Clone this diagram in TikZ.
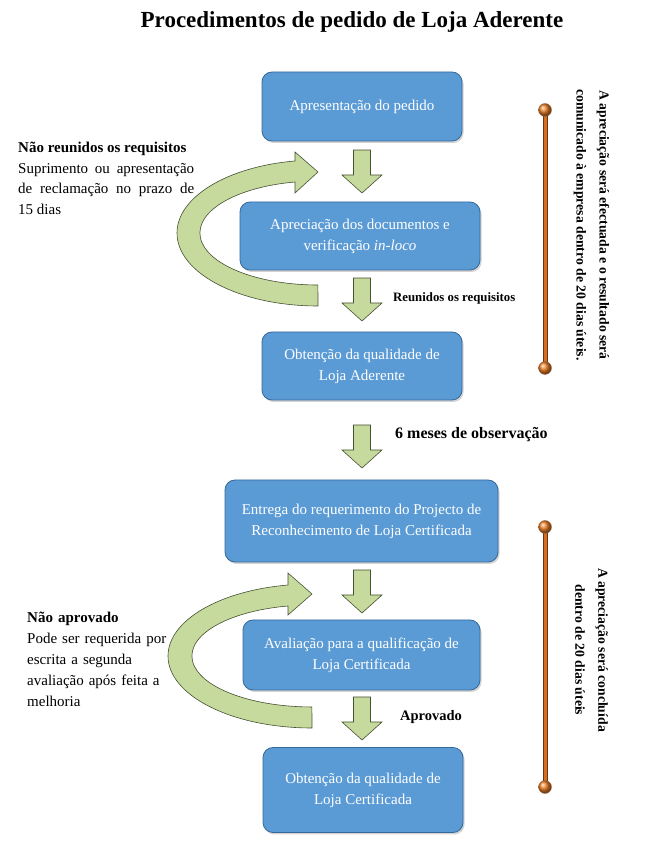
\documentclass[tikz,border=0pt]{standalone}
\usepackage{fontspec}
\setmainfont{Liberation Serif}
\usetikzlibrary{shadows}
\definecolor{boxblue}{RGB}{91,155,213}
\definecolor{boxedge}{RGB}{52,105,155}
\definecolor{arrowgreen}{RGB}{198,218,158}
\definecolor{arrowedge}{RGB}{70,80,50}
\definecolor{barorange}{RGB}{215,110,30}
\definecolor{bardark}{RGB}{110,50,15}
\definecolor{ballorange}{RGB}{235,125,35}
\begin{document}
\begin{tikzpicture}[x=1pt,y=1pt,
  stepbox/.style={draw=boxedge, line width=0.8pt, fill=boxblue, rounded corners=10pt,
    text=white, align=center, font=\fontsize{15}{21}\selectfont, inner sep=0pt,
    drop shadow={shadow xshift=1.5pt, shadow yshift=-2pt, opacity=0.35}},
  greenarrow/.style={fill=arrowgreen, draw=arrowedge, line width=0.6pt},
  lbl/.style={anchor=west, inner sep=0pt},
  sidenote/.style={inner sep=0pt, rotate=-90, align=center, font=\bfseries\fontsize{13.7}{23}\selectfont},
  blockdown/.pic={\path[greenarrow] (-8.5,0) -- (8.5,0) -- (8.5,-25) -- (20,-25) -- (0,-43) -- (-20,-25) -- (-8.5,-25) -- cycle;},
  ball/.style={ball color=ballorange}
]
\useasboundingbox (0,0) rectangle (647,849);

% title
\node[font=\bfseries\fontsize{23}{28}\selectfont] (title) at (352,827) {Procedimentos de pedido de Loja Aderente};

% boxes
\node[stepbox, minimum width=200, minimum height=69] (b1) at (362,742.5) {Apresentação do pedido};
\node[stepbox, minimum width=240, minimum height=68] (b2) at (360,613) {Apreciação dos documentos e\\verificação \textit{in-loco}};
\node[stepbox, minimum width=200, minimum height=68] (b3) at (362,483) {Obtenção da qualidade de\\Loja Aderente};
\node[stepbox, minimum width=273, minimum height=82] (b4) at (361.5,328) {Entrega do requerimento do Projecto de\\Reconhecimento de Loja Certificada};
\node[stepbox, minimum width=237, minimum height=70] (b5) at (361.5,194) {Avaliação para a qualificação de\\Loja Certificada};
\node[stepbox, minimum width=200, minimum height=85] (b6) at (363,59) {Obtenção da qualidade de\\Loja Certificada};

% block arrows down
\pic (a1) at (362,699) {blockdown};
\pic (a2) at (362,571) {blockdown};
\pic (a3) at (362,424) {blockdown};
\pic (a4) at (362,279) {blockdown};
\pic (a5) at (362,152) {blockdown};

% curved return arrows
\path[greenarrow] (318,543) arc[start angle=270, end angle=99.4, x radius=141, y radius=73]
  -- (295,697) -- (318,677) -- (295,656) -- (295,667)
  arc[start angle=101.2, end angle=270, x radius=118, y radius=52] -- cycle;
\path[greenarrow] (312,121) arc[start angle=270, end angle=99.6, x radius=144, y radius=72]
  -- (288,276) -- (312,255) -- (288,234) -- (288,243)
  arc[start angle=101.5, end angle=270, x radius=120, y radius=51] -- cycle;

% labels
\node[lbl, font=\bfseries\fontsize{12.8}{15}\selectfont] (l1) at (393,551) {Reunidos os requisitos};
\node[lbl, font=\bfseries\fontsize{16}{19}\selectfont] (l2) at (395,414) {6 meses de observação};
\node[lbl, font=\bfseries\fontsize{14.5}{17}\selectfont] (l3) at (400,132) {Aprovado};

% left notes
\node[anchor=base west, inner sep=0pt, text width=176, align=justify, font=\fontsize{15}{20.5}\selectfont] (n1) at (18,696)
  {\textbf{Não reunidos os requisitos}\\Suprimento ou apresentação\linebreak de reclamação no prazo de\linebreak 15 dias};
\node[anchor=base west, inner sep=0pt, text width=150, align=left, font=\fontsize{15}{21}\selectfont] (n2) at (27,226)
  {\textbf{Não aprovado}\\Pode ser requerida por\\escrita a segunda\\avaliação após feita a\\melhoria};

% timeline bars
\coordinate (t1a) at (545,739);
\coordinate (t1b) at (545,481);
\coordinate (t2a) at (545,322);
\coordinate (t2b) at (545,62);
\draw[bardark, line width=5pt] (t1a) -- (t1b);
\draw[barorange, line width=3pt] (t1a) -- (t1b);
\draw[bardark, line width=5pt] (t2a) -- (t2b);
\draw[barorange, line width=3pt] (t2a) -- (t2b);
\foreach \p in {t1a,t1b,t2a,t2b} {\shade[ball] (\p) circle (6.5); \draw[bardark!70, line width=0.4pt] (\p) circle (6.5);}

\node[sidenote] (s1) at (591.5,624) {A apreciação será efectuada e o resultado será\\comunicado à empresa dentro de 20 dias úteis.};
\node[sidenote] (s2) at (591.5,199) {A apreciação será concluída\\dentro de 20 dias úteis};
\end{tikzpicture}
\end{document}
